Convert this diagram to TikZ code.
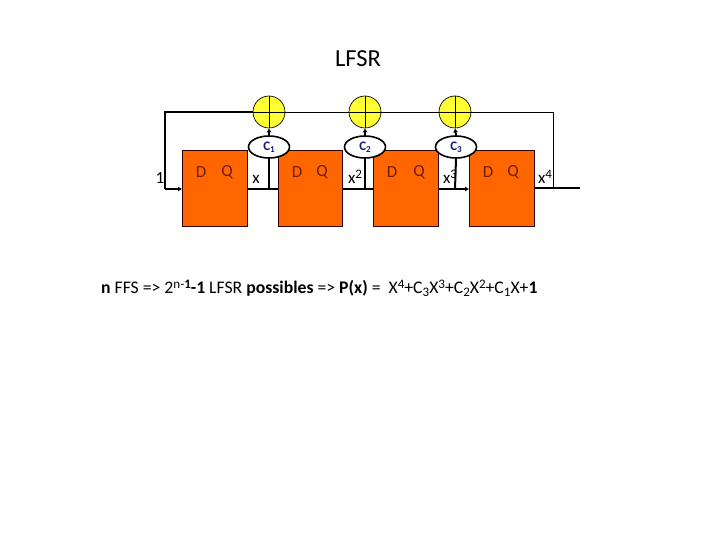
\documentclass[tikz,border=0pt]{standalone}
\usepackage{fontspec}
\setmainfont{Carlito}
\usetikzlibrary{arrows.meta,shapes.geometric}
\definecolor{boxor}{RGB}{255,102,0}
\definecolor{xoryel}{RGB}{255,255,51}
\definecolor{coefblue}{RGB}{20,20,130}
\definecolor{dqred}{RGB}{110,30,10}
\newcommand{\supr}[1]{\raisebox{.55ex}{\fontsize{13}{14}\selectfont #1}}
\newcommand{\subr}[1]{\raisebox{-.35ex}{\fontsize{13}{14}\selectfont #1}}
\newcommand{\csub}[1]{\raisebox{-.35ex}{\fontsize{9}{10}\selectfont\bfseries #1}}
\tikzset{
 x=1pt,y=-1pt,
 ffbox/.style={draw=black!80!red,line width=.8pt,fill=boxor,minimum width=65pt,minimum height=76pt,inner sep=0pt},
 xorc/.style={circle,draw=black,line width=.7pt,fill=xoryel,minimum size=32pt,inner sep=0pt},
 coef/.style={ellipse,draw=black,line width=1.6pt,fill=white,minimum width=41pt,minimum height=22pt,inner sep=0pt,text=coefblue,font=\fontsize{13}{14}\selectfont\bfseries},
 bus/.style={draw=black,line width=2pt},
 thin wire/.style={draw=black,line width=.7pt},
 lbl/.style={inner sep=0pt,font=\fontsize{17}{19}\selectfont},
 dq/.style={inner sep=0pt,text=dqred,font=\fontsize{17}{19}\selectfont},
 tip/.style={-{Latex[length=4pt,width=5pt]}}
}
\begin{document}
\begin{tikzpicture}
\useasboundingbox (0,0) rectangle (720,540);
\fill[white] (0,0) rectangle (720,540);
\node[font=\fontsize{24.5}{28}\selectfont,inner sep=0pt] (title) at (358,59) {LFSR};
% registers
\node[ffbox] (f1) at (215,188) {};
\node[ffbox,minimum width=64pt] (f2) at (310.5,188) {};
\node[ffbox] (f3) at (406,188) {};
\node[ffbox] (f4) at (502,188) {};
% xors
\node[xorc] (x1) at (269,112) {};
\node[xorc] (x2) at (365,112) {};
\node[xorc] (x3) at (455,112) {};
\foreach \n in {x1,x2,x3}{
 \draw[line width=.7pt] (\n.north)--(\n.south);
 \draw[line width=.7pt] (\n.west)--(\n.east);
}
% coordinates
\coordinate (lt) at (165,112);
\coordinate (lb) at (165,189);
\coordinate (rt) at (553,112);
\coordinate (rb) at (553,188);
\coordinate (out) at (580,188);
\coordinate (j1) at (269,189);
\coordinate (j2) at (365,189);
\coordinate (j3) at (455,189);
% feedback
\draw[bus] (x1.west)--(lt)--(lb);
\draw[bus,tip] (lb)--(f1.west|-lb);
\draw[thin wire] (x1.east)--(x2.west);
\draw[thin wire] (x2.east)--(x3.west);
\draw[thin wire] (x3.east)--(rt)--(rb);
% shift wires
\draw[bus] (f1.east|-j1)--(f2.west|-j1);
\draw[bus] (f2.east|-j2)--(f3.west|-j2);
\draw[bus,tip] (f3.east|-j3)--(f4.west|-j3);
\draw[bus] (f4.east|-rb)--(out);
% coefficients
\node[coef] (c1) at (269,147) {C\csub{1}};
\node[coef] (c2) at (365,147) {C\csub{2}};
\node[coef] (c3) at (456,147) {C\csub{3}};
\draw[bus] (j1)--(c1.south);
\draw[bus] (j2)--(c2.south);
\draw[bus] (j3)--(c3.south);
\draw[bus,tip] (c1.north)--(x1.south);
\draw[bus,tip] (c2.north)--(x2.south);
\draw[bus,tip] (c3.north)--(x3.south);
% labels
\node[lbl] (one) at (160,178) {1};
\node[lbl] (lx1) at (256,179) {x};
\node[lbl] (lx2) at (355,177) {x\supr{2}};
\node[lbl] (lx3) at (450,177) {x\supr{3}};
\node[lbl] (lx4) at (545,177) {x\supr{4}};
\foreach \dx/\qx in {201/227,297/322,392/419,488/513}{
 \node[dq] at (\dx,172) {D};
 \node[dq] at (\qx,172) {Q};
}
\node[inner sep=0pt,anchor=west,font=\fontsize{17.7}{20}\selectfont] (eq) at (101,288) {\textbf{n} FFS => 2\supr{n-\textbf{1}}\textbf{-1} LFSR \textbf{possibles} => \textbf{P(x)} =~ X\supr{4}+C\subr{3}X\supr{3}+C\subr{2}X\supr{2}+C\subr{1}X+\textbf{1}};
\end{tikzpicture}
\end{document}
